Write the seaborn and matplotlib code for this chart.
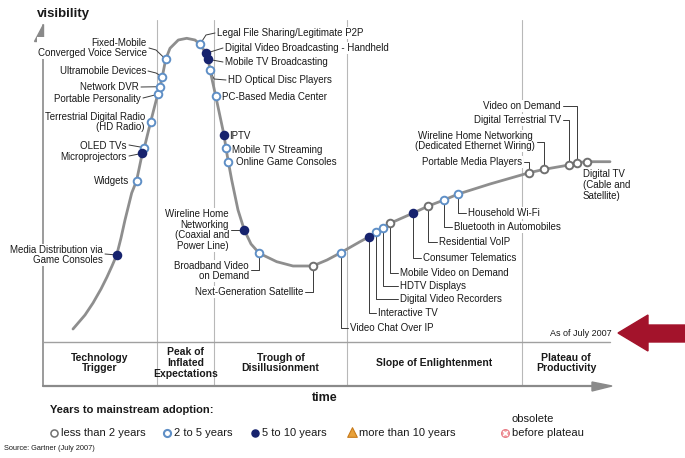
import matplotlib
matplotlib.use("Agg")
import matplotlib.pyplot as plt
import seaborn as sns
import pandas as pd
from matplotlib.patches import Polygon

# ---------------- data (time / visibility units) ----------------
curve_time = [30, 42, 50, 58, 64, 69, 73.7, 78, 82, 88.7, 93.5, 99.3, 101.3, 107.7, 114.7, 117, 119.3,
              122.7, 127, 135.3, 143.7, 152, 157, 163, 165.3, 167, 172.7, 181, 183, 185.3, 188.7, 195,
              201.3, 208, 216.3, 233.7, 250, 269.7, 284, 297.7, 317, 326.3, 333, 339.7, 347, 369.7,
              385.3, 401, 415.3, 447, 486.3, 501.3, 526, 533.7, 543.7, 567]
curve_vis = [57, 71, 83, 97, 109, 120, 131, 148, 166, 193, 205, 232.7, 238.3, 264.3, 291.7, 299.3, 309.3,
             326.7, 337.7, 346, 347.7, 346, 341.7, 332.7, 326.7, 316, 290, 251, 237.7, 224.3, 206, 176,
             156, 142, 132.7, 124.3, 120, 120, 126, 133.3, 144.3, 149.3, 154.3, 157.7, 162.7, 172.7,
             180, 186, 192, 202, 213.3, 216.7, 221, 223.3, 224.3, 224.3]

tech_names = [
    "Media Distribution via\nGame Consoles", "Widgets", "Microprojectors", "OLED TVs",
    "Terrestrial Digital Radio\n(HD Radio)", "Portable Personality", "Network DVR",
    "Ultramobile Devices", "Fixed-Mobile\nConverged Voice Service",
    "Legal File Sharing/Legitimate P2P", "Digital Video Broadcasting - Handheld",
    "Mobile TV Broadcasting", "HD Optical Disc Players", "PC-Based Media Center", "IPTV",
    "Mobile TV Streaming", "Online Game Consoles",
    "Wireline Home\nNetworking\n(Coaxial and\nPower Line)", "Broadband Video\non Demand",
    "Next-Generation Satellite", "Video Chat Over IP", "Interactive TV", "Digital Video Recorders",
    "HDTV Displays", "Mobile Video on Demand", "Consumer Telematics", "Residential VoIP",
    "Bluetooth in Automobiles", "Household Wi-Fi", "Portable Media Players",
    "Wireline Home Networking\n(Dedicated Ethernet Wiring)", "Digital Terrestrial TV",
    "Video on Demand", "Digital TV\n(Cable and\nSatellite)"]
tech_time = [73.7, 93.5, 99.3, 101.3, 107.7, 114.7, 117, 119.3, 122.7, 157, 163, 165.3, 167, 172.7,
             181, 183, 185.3, 201.3, 216.3, 269.7, 297.7, 326.3, 333, 339.7, 347, 369.7, 385.3, 401,
             415.3, 486.3, 501.3, 526, 533.7, 543.7]
tech_vis = [131, 205, 232.7, 238.3, 264.3, 291.7, 299.3, 309.3, 326.7, 341.7, 332.7, 326.7, 316, 290,
            251, 237.7, 224.3, 156, 132.7, 120, 133.3, 149.3, 154.3, 157.7, 162.7, 172.7, 180, 186,
            192, 213.3, 216.7, 221, 223.3, 224.3]
tech_years = ["5 to 10 years", "2 to 5 years", "5 to 10 years", "2 to 5 years", "2 to 5 years",
              "2 to 5 years", "2 to 5 years", "2 to 5 years", "2 to 5 years", "2 to 5 years",
              "5 to 10 years", "5 to 10 years", "2 to 5 years", "2 to 5 years", "5 to 10 years",
              "2 to 5 years", "2 to 5 years", "5 to 10 years", "2 to 5 years", "less than 2 years",
              "2 to 5 years", "5 to 10 years", "2 to 5 years", "2 to 5 years", "less than 2 years",
              "5 to 10 years", "less than 2 years", "2 to 5 years", "2 to 5 years",
              "less than 2 years", "less than 2 years", "less than 2 years", "less than 2 years",
              "less than 2 years"]

phase_names = ["Technology\nTrigger", "Peak of\nInflated\nExpectations", "Trough of\nDisillusionment",
               "Slope of Enlightenment", "Plateau of\nProductivity"]
phase_bounds = [0, 114, 171, 304, 479, 567]

legend_labels = ["less than 2 years", "2 to 5 years", "5 to 10 years", "more than 10 years",
                 "before plateau"]

# ---------------- layout (pixel positions) ----------------
X0, Y0 = 43, 386


def P(x, y):
    return (x - X0, Y0 - y)


label_layout = [
    (103, 255, 'right', [(105, 254)]),
    (129, 181, 'right', []),
    (127, 157, 'right', [(129, 156)]),
    (127, 146, 'right', [(129, 145)]),
    (145, 122, 'right', []),
    (141, 99, 'right', [(143, 98)]),
    (139, 87, 'right', [(141, 87)]),
    (146, 71, 'right', [(156, 73), (148, 71)]),
    (147, 48, 'right', [(156, 50), (149, 48)]),
    (217, 33, 'left', [(206, 35), (215, 33)]),
    (225, 48, 'left', [(223, 48)]),
    (225, 62, 'left', [(223, 62)]),
    (228, 80, 'left', [(214, 79), (226, 80)]),
    (222, 97, 'left', []),
    (229, 136, 'left', []),
    (232, 150, 'left', []),
    (236, 162, 'left', []),
    (229, 230, 'right', [(231, 230)]),
    (249, 271, 'right', [(259.3, 270), (251, 270)]),
    (303, 292, 'right', [(312.7, 292), (305, 292)]),
    (350, 328, 'left', [(340.7, 328), (348, 328)]),
    (378, 313, 'left', [(369.3, 313), (376, 313)]),
    (400, 299, 'left', [(376, 299), (398, 299)]),
    (400, 286, 'left', [(382.7, 286), (398, 286)]),
    (400, 273, 'left', [(390, 273), (398, 273)]),
    (423, 258, 'left', [(412.7, 258), (421, 258)]),
    (439, 242, 'left', [(428.3, 242), (437, 242)]),
    (454, 227, 'left', [(444, 227), (452, 227)]),
    (468, 213, 'left', [(458.3, 213), (466, 213)]),
    (522, 162, 'right', [(529.3, 162), (524, 162)]),
    (535, 141, 'right', [(544.3, 142), (537, 142)]),
    (561, 120, 'right', [(569, 120), (563, 120)]),
    (561, 106, 'right', [(576.7, 106), (563, 106)]),
    (583, 185, 'left', []),
]

styles = {
    "less than 2 years": dict(color="white", edgecolor="#707070"),
    "2 to 5 years": dict(color="white", edgecolor="#5f8fc6"),
    "5 to 10 years": dict(color="#17236e", edgecolor="#17236e"),
}

FONT = "Liberation Sans"
TXT = "#1a1a1a"
GRAY = "#8a8a8a"

sns.set_theme(style="white")
plt.rcParams['font.family'] = [FONT, 'DejaVu Sans']

fig = plt.figure(figsize=(6.85, 4.58), dpi=100)
ax = fig.add_axes([0, 0, 1, 1])
ax.set_xlim(-X0, 685 - X0)
ax.set_ylim(Y0 - 458, Y0)
ax.axis('off')

# phase dividers
for b in phase_bounds[1:-1]:
    ax.plot([b, b], [0, Y0 - 20], color="#b8b8b8", lw=0.8, zorder=1)

# axes frame
ax.plot(*zip(P(43, 25), P(43, 386)), color=GRAY, lw=1.2, zorder=1)
ax.plot(*zip(P(43, 386), P(596, 386)), color=GRAY, lw=1.6, zorder=1)
ax.plot(*zip(P(43, 342), P(610, 342)), color="#a0a0a0", lw=1.0, zorder=1)
ax.add_patch(Polygon([P(43, 24), P(43, 41), P(34, 41)], closed=True, color=GRAY, zorder=1))
ax.add_patch(Polygon([P(592, 382), P(612, 386), P(592, 391)], closed=True, color=GRAY, zorder=1))

# hype curve
sns.lineplot(x=curve_time, y=curve_vis, sort=False, estimator=None, color="#8e8e8e", lw=2.0,
             ax=ax, zorder=4)

# leaders and labels
for (t, v), name, (tx, ty, ha, path) in zip(zip(tech_time, tech_vis), tech_names, label_layout):
    if path:
        pts = [(t, v)] + [P(*p) for p in path]
        ax.plot([p[0] for p in pts], [p[1] for p in pts], color="#3a3a3a", lw=0.7, zorder=3)
    malign = 'center' if 'Dedicated' in name else ha
    ax.text(*P(tx, ty), name, ha=ha, va='center', fontsize=7.0, color=TXT, multialignment=malign,
            linespacing=1.12, zorder=3.5,
            bbox=dict(fc='white', ec='none', pad=0.4))

# technology points
df = pd.DataFrame({"time": tech_time, "visibility": tech_vis, "years": tech_years})
for cat, st in styles.items():
    sub = df[df["years"] == cat]
    sns.scatterplot(data=sub, x="time", y="visibility", ax=ax, s=30, linewidth=1.4,
                    zorder=6, legend=False, **st)

# phase labels
for i, name in enumerate(phase_names):
    cx = (phase_bounds[i] + phase_bounds[i + 1]) / 2
    ax.text(cx, P(0, 363)[1], name, ha='center', va='center', fontsize=7.5, fontweight='bold',
            color=TXT, linespacing=1.08, multialignment='center')

# axis titles
ax.text(*P(37, 14), "visibility", ha='left', va='center', fontsize=9.5, fontweight='bold', color=TXT)
ax.text(*P(325, 398), "time", ha='center', va='center', fontsize=9, fontweight='bold', color=TXT)
ax.text(*P(612, 333), "As of July 2007", ha='right', va='center', fontsize=6.5, color=TXT)

# red arrow
ax.add_patch(Polygon([P(618, 333), P(648, 315), P(648, 325), P(686, 325), P(686, 342),
                      P(648, 342), P(648, 351)], closed=True, color="#a3132b", zorder=5))

# legend
ax.text(*P(50, 410), "Years to mainstream adoption:", ha='left', va='center', fontsize=8,
        fontweight='bold', color=TXT)
leg_x = [54, 167, 255, 352, 505]
leg_y = 433
ax.scatter(*P(leg_x[0], leg_y), s=26, facecolor="white", edgecolor="#707070", linewidth=1.1, zorder=6)
ax.scatter(*P(leg_x[1], leg_y), s=26, facecolor="white", edgecolor="#5f8fc6", linewidth=1.5, zorder=6)
ax.scatter(*P(leg_x[2], leg_y), s=26, facecolor="#17236e", edgecolor="#17236e", linewidth=1.0, zorder=6)
ax.scatter(*P(leg_x[3], leg_y - 1), s=48, marker='^', facecolor="#e8a13a", edgecolor="#c77a1a",
           linewidth=0.8, zorder=6)
ax.scatter(*P(leg_x[4], leg_y), s=30, facecolor="#f6b3b3", edgecolor="#e87c86", linewidth=1.0, zorder=6)
ax.scatter(*P(leg_x[4], leg_y), s=12, marker='x', color="white", linewidth=1.0, zorder=7)
for x, lab in zip(leg_x, legend_labels):
    ax.text(*P(x + 7, leg_y), lab, ha='left', va='center', fontsize=8, color=TXT)
ax.text(*P(leg_x[4] + 7, 419), "obsolete", ha='left', va='center', fontsize=8, color=TXT)
ax.text(*P(4, 449), "Source: Gartner (July 2007)", ha='left', va='center', fontsize=5.3, color=TXT)

fig.savefig("out.png", dpi=100, facecolor="white")
